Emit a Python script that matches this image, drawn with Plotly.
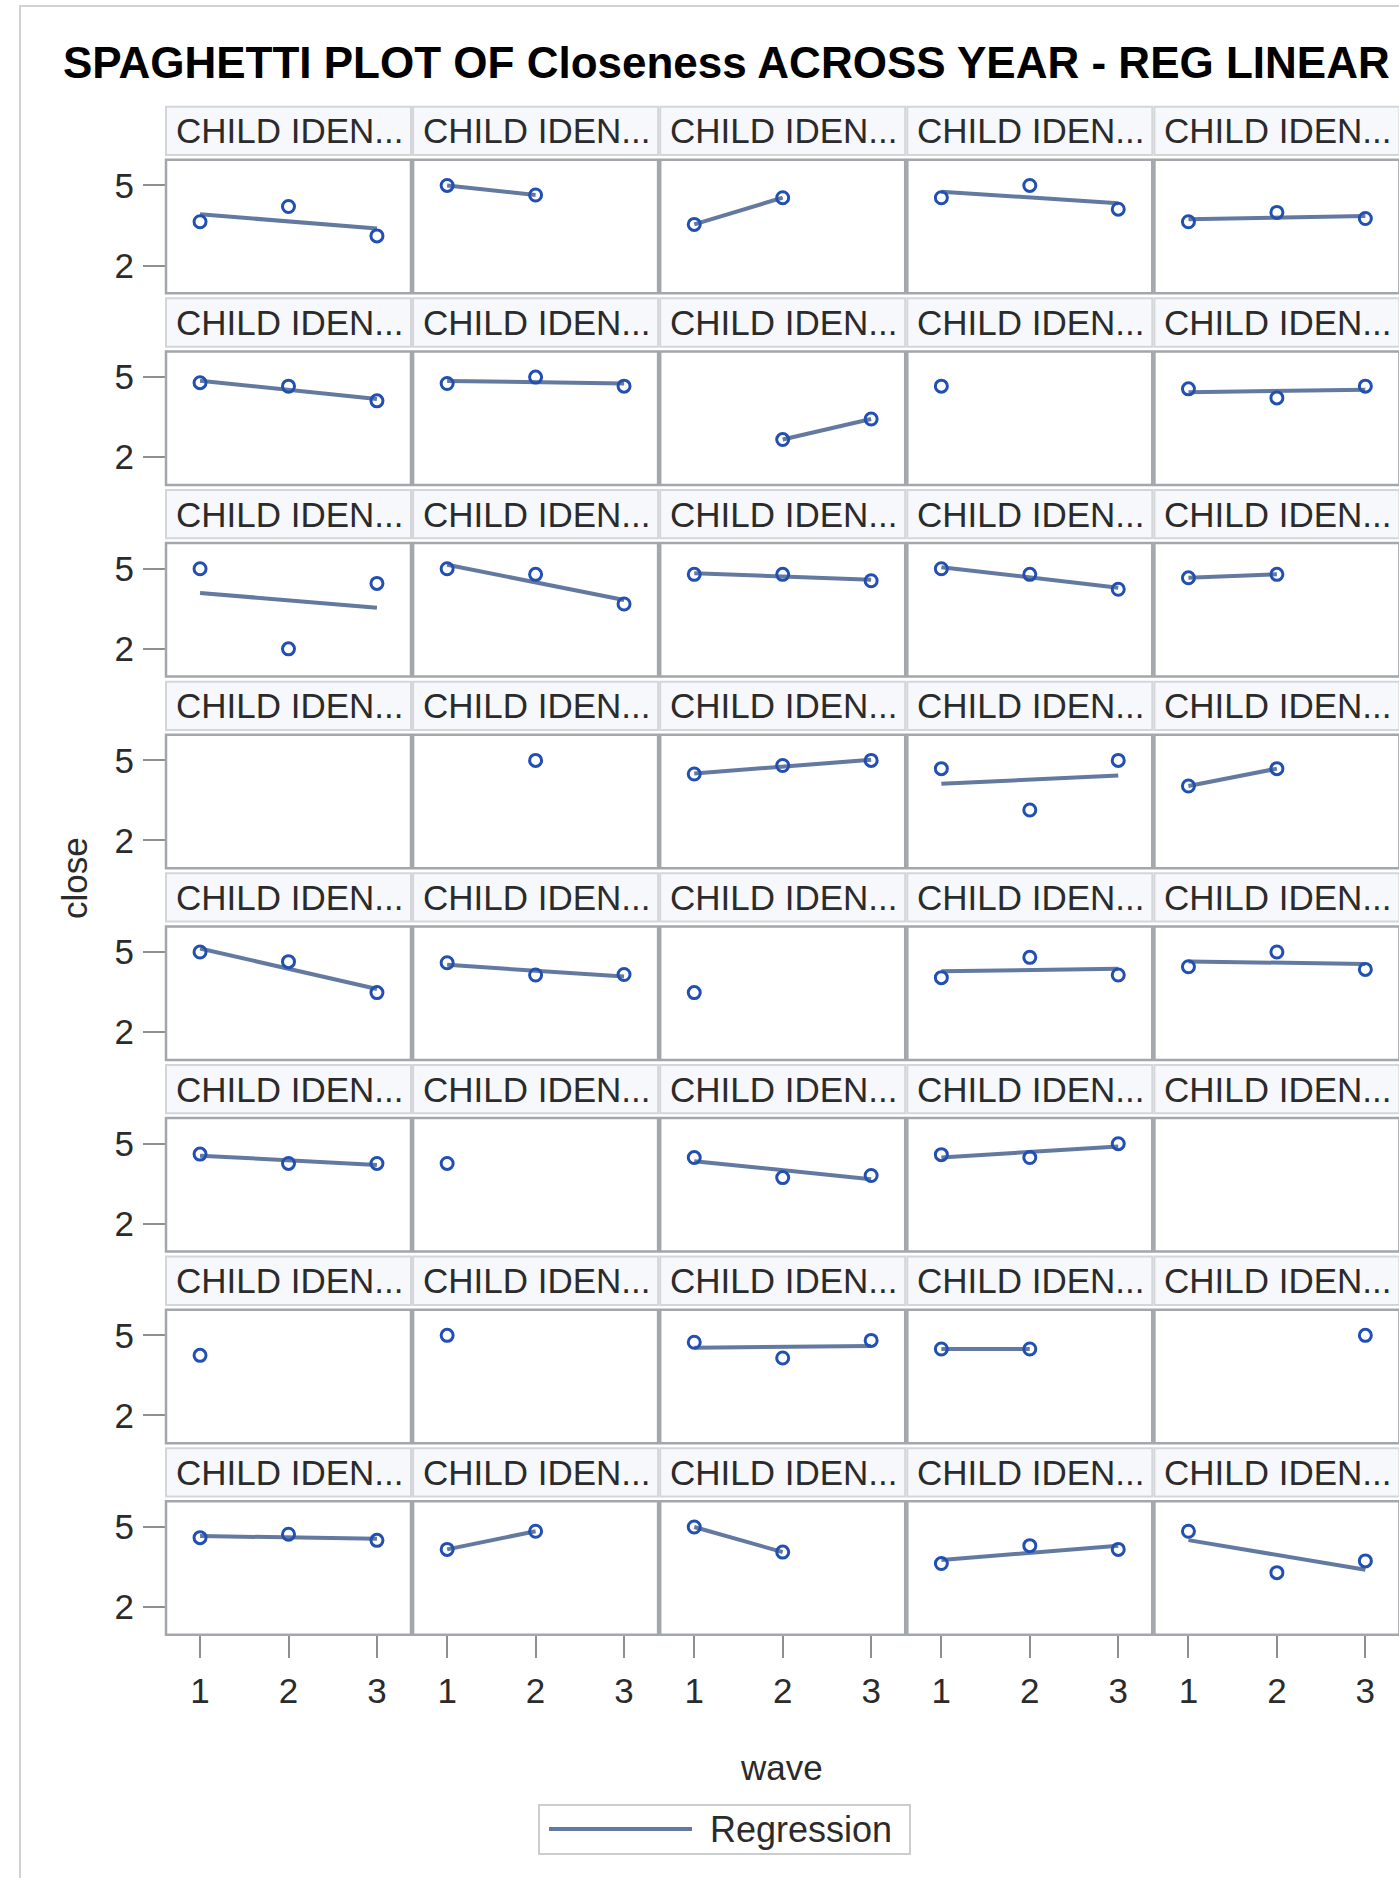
import numpy as np
import plotly.graph_objects as go

# ---------------- data ----------------
waves = [1, 2, 3]
panel_labels = ["CHILD IDEN..."] * 40
close_w1 = [3.64, 5.0, 3.54, 4.54, 3.64,
            4.79, 4.76, None, 4.66, 4.56,
            5.0, 5.0, 4.79, 5.0, 4.66,
            None, None, 4.49, 4.69, 4.04,
            5.0, 4.6, 3.48, 4.04, 4.45,
            4.61, 4.26, 4.48, 4.59, None,
            4.25, 5.0, 4.74, 4.49, None,
            4.6, 4.16, 5.0, 3.63, 4.84]
close_w2 = [4.21, 4.64, 4.54, 5.0, 3.99,
            4.66, 5.0, 2.66, None, 4.22,
            2.0, 4.79, 4.79, 4.79, 4.79,
            None, 5.0, 4.81, 3.14, 4.69,
            4.64, 4.14, None, 4.8, 5.0,
            4.26, None, 3.73, 4.48, None,
            None, None, 4.15, 4.49, None,
            4.73, 4.84, 4.06, 4.3, 3.29]
close_w3 = [3.11, None, None, 4.11, 3.76,
            4.11, 4.66, 3.43, None, 4.66,
            4.45, 3.68, 4.55, 4.23, None,
            None, None, 5.0, 5.0, None,
            3.48, 4.16, None, 4.14, 4.35,
            4.26, None, 3.81, 5.0, None,
            None, None, 4.81, None, 5.0,
            4.5, None, None, 4.16, 3.73]
x_tick_vals = [1, 2, 3]
y_tick_vals = [2, 5]
title_text = "SPAGHETTI PLOT OF Closeness ACROSS YEAR - REG LINEAR"
x_title = "wave"
y_title = "close"
legend_label = "Regression"

# ---------------- layout geometry (pixels) ----------------
W, H = 1399, 1878
NCOL, NROW = 5, 8
COL0, COLSTEP, PW = 166.0, 247.1, 245.0
PTOP0, ROWSTEP, PH = 159.8, 191.65, 133.5
HTOP0, HH = 106.7, 48.3
XR = [0.615, 3.385]
YR = [0.96, 5.96]

FONT = "Liberation Sans, Arial, sans-serif"
MARK_C = "#2150b2"
LINE_C = "#63799f"
BORDER_C = "#a3a7ab"
TXT_C = "#2b2b2b"


def fx(x):
    return x / W


def fy(y):
    return 1 - y / H


fig = go.Figure()
layout = dict(width=W, height=H, margin=dict(l=0, r=0, t=0, b=0),
              paper_bgcolor="white", plot_bgcolor="white", showlegend=False,
              font=dict(family=FONT, color=TXT_C))
shapes = []
annotations = []

series = [close_w1, close_w2, close_w3]
for i in range(NROW * NCOL):
    r, c = divmod(i, NCOL)
    k = i + 1
    xs = "" if k == 1 else str(k)
    left = COL0 + COLSTEP * c
    right = min(left + PW, W)
    top = PTOP0 + ROWSTEP * r
    bot = top + PH
    xr = [XR[0], XR[0] + (XR[1] - XR[0]) * (right - left) / PW]
    bottom_row = r == NROW - 1
    first_col = c == 0
    layout["xaxis" + xs] = dict(
        domain=[fx(left), fx(right)], range=xr, anchor="y" + xs,
        showgrid=False, zeroline=False, showline=False,
        tickvals=x_tick_vals if bottom_row else [],
        ticks="outside" if bottom_row else "",
        ticklen=22, tickwidth=1.5, tickcolor="#8f8f8f",
        showticklabels=bottom_row, ticklabelstandoff=3,
        tickfont=dict(size=35, family=FONT, color=TXT_C), fixedrange=True)
    layout["yaxis" + xs] = dict(
        domain=[fy(bot), fy(top)], range=YR, anchor="x" + xs,
        showgrid=False, zeroline=False, showline=False,
        tickvals=y_tick_vals if first_col else [],
        ticks="outside" if first_col else "",
        ticklen=22, tickwidth=1.5, tickcolor="#8f8f8f",
        showticklabels=first_col, ticklabelstandoff=2,
        tickfont=dict(size=35, family=FONT, color=TXT_C), fixedrange=True)

    # data for this panel
    px_, py_ = [], []
    for w, s in zip(waves, series):
        if s[i] is not None:
            px_.append(w)
            py_.append(s[i])
    # every panel gets a trace so its axes are drawn even when it has no data
    fig.add_trace(go.Scatter(x=[], y=[], mode="markers", xaxis="x" + xs, yaxis="y" + xs,
                             hoverinfo="skip", showlegend=False))
    if len(px_) >= 2:
        b1, b0 = np.polyfit(px_, py_, 1)
        lx = [min(px_), max(px_)]
        ly = [b0 + b1 * v for v in lx]
        fig.add_trace(go.Scatter(x=lx, y=ly, mode="lines", xaxis="x" + xs, yaxis="y" + xs,
                                 line=dict(color=LINE_C, width=4), name=legend_label,
                                 hoverinfo="skip"))
    if px_:
        fig.add_trace(go.Scatter(x=px_, y=py_, mode="markers", xaxis="x" + xs, yaxis="y" + xs,
                                 marker=dict(symbol="circle-open", size=12, color=MARK_C,
                                             line=dict(width=3, color=MARK_C)),
                                 name="close"))

    # panel border
    shapes.append(dict(type="rect", xref="paper", yref="paper",
                       x0=fx(left), x1=fx(left + PW), y0=fy(bot), y1=fy(top),
                       line=dict(color=BORDER_C, width=2.5), fillcolor="rgba(0,0,0,0)"))
    # header strip
    htop = HTOP0 + ROWSTEP * r
    shapes.append(dict(type="rect", xref="paper", yref="paper", layer="below",
                       x0=fx(left), x1=fx(left + PW), y0=fy(htop + HH), y1=fy(htop),
                       line=dict(color="#d3d6d9", width=2), fillcolor="#f7f8fc"))
    annotations.append(dict(text=panel_labels[i], xref="paper", yref="paper",
                            x=fx(left + 8), y=fy(htop + HH / 2), xanchor="left",
                            yanchor="middle", showarrow=False,
                            font=dict(size=35, family=FONT, color=TXT_C)))

# outer frame
shapes.append(dict(type="rect", xref="paper", yref="paper", layer="below",
                   x0=fx(20), x1=fx(W + 20), y0=fy(H + 20), y1=fy(6),
                   line=dict(color="#d2d2d2", width=2), fillcolor="rgba(0,0,0,0)"))

# title and axis titles
annotations.append(dict(text="<b>" + title_text + "</b>", xref="paper", yref="paper",
                        x=fx(726), y=fy(62), xanchor="center", yanchor="middle",
                        showarrow=False, font=dict(size=44, family=FONT, color="black")))
annotations.append(dict(text=x_title, xref="paper", yref="paper", x=fx(781), y=fy(1767),
                        xanchor="center", yanchor="middle", showarrow=False,
                        font=dict(size=35, family=FONT, color=TXT_C)))
annotations.append(dict(text=y_title, xref="paper", yref="paper", x=fx(74), y=fy(878),
                        xanchor="center", yanchor="middle", showarrow=False, textangle=-90,
                        font=dict(size=35, family=FONT, color=TXT_C)))

# legend box
shapes.append(dict(type="rect", xref="paper", yref="paper",
                   x0=fx(539), x1=fx(910), y0=fy(1854), y1=fy(1805),
                   line=dict(color="#cbcdcf", width=2), fillcolor="white"))
shapes.append(dict(type="line", xref="paper", yref="paper",
                   x0=fx(549), x1=fx(692), y0=fy(1829), y1=fy(1829),
                   line=dict(color=LINE_C, width=4)))
annotations.append(dict(text=legend_label, xref="paper", yref="paper", x=fx(708), y=fy(1829),
                        xanchor="left", yanchor="middle", showarrow=False,
                        font=dict(size=36, family=FONT, color=TXT_C)))

layout["shapes"] = shapes
layout["annotations"] = annotations
fig.update_layout(**layout)
fig.write_html("out.html", config={"displayModeBar": False},
               post_script="document.body.style.margin='0';")
